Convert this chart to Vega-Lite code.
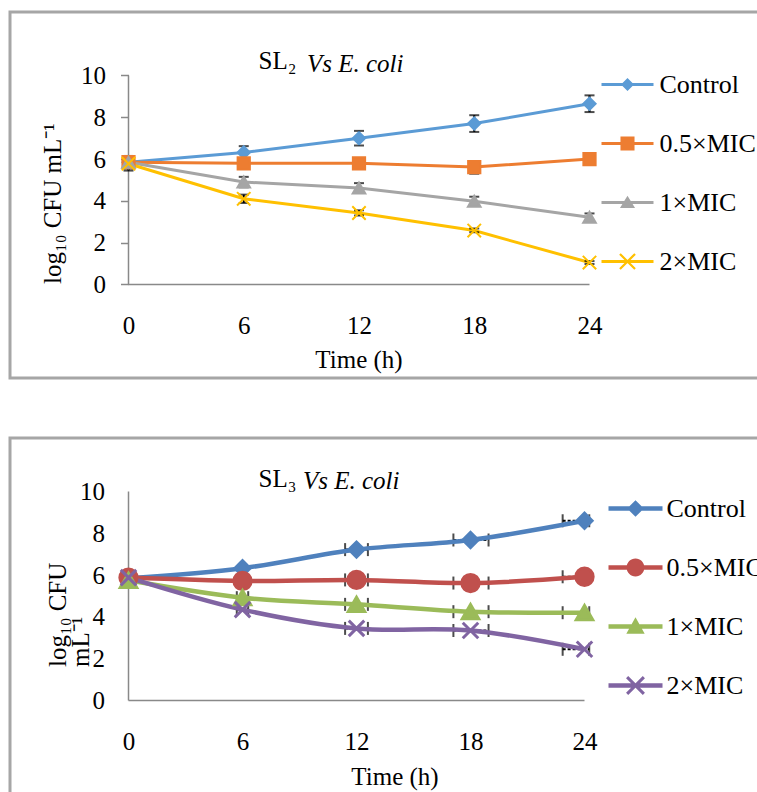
{
  "$schema": "https://vega.github.io/schema/vega-lite/v6.json",
  "padding": {"left": 8, "top": 10, "right": 0, "bottom": 0},
  "background": "white",
  "spacing": 56,
  "config": {
    "font": "Liberation Serif",
    "view": {"stroke": "#A6A6A6", "strokeWidth": 3},
    "axis": {"labelFont": "Liberation Serif", "titleFont": "Liberation Serif", "labelFontSize": 25, "titleFontSize": 25, "labelColor": "#000000", "titleColor": "#000000", "titleFontWeight": "normal", "grid": false, "labelFlush": false, "labelOverlap": false},
    "legend": {"labelFont": "Liberation Serif", "labelFontSize": 26, "labelColor": "#000000", "labelLimit": 400, "padding": 0, "symbolOpacity": 1, "symbolStrokeWidth": 0},
    "title": {"font": "Liberation Serif", "fontSize": 25, "fontWeight": "normal", "color": "#000000"}
  },
  "datasets": {
    "sl2": [
      {"series": "Control", "t": 0, "v": 5.85, "lo": 5.55, "hi": 6.15},
      {"series": "Control", "t": 6, "v": 6.32, "lo": 6.02, "hi": 6.62},
      {"series": "Control", "t": 12, "v": 7.0, "lo": 6.65, "hi": 7.35},
      {"series": "Control", "t": 18, "v": 7.7, "lo": 7.3, "hi": 8.1},
      {"series": "Control", "t": 24, "v": 8.65, "lo": 8.25, "hi": 9.05},
      {"series": "0.5×MIC", "t": 0, "v": 5.85, "lo": 5.6, "hi": 6.1},
      {"series": "0.5×MIC", "t": 6, "v": 5.8, "lo": 5.6, "hi": 6.0},
      {"series": "0.5×MIC", "t": 12, "v": 5.8, "lo": 5.6, "hi": 6.0},
      {"series": "0.5×MIC", "t": 18, "v": 5.62, "lo": 5.3, "hi": 5.9},
      {"series": "0.5×MIC", "t": 24, "v": 6.0, "lo": 5.8, "hi": 6.2},
      {"series": "1×MIC", "t": 0, "v": 5.85, "lo": 5.65, "hi": 6.05},
      {"series": "1×MIC", "t": 6, "v": 4.9, "lo": 4.65, "hi": 5.15},
      {"series": "1×MIC", "t": 12, "v": 4.62, "lo": 4.4, "hi": 4.85},
      {"series": "1×MIC", "t": 18, "v": 3.98, "lo": 3.8, "hi": 4.2},
      {"series": "1×MIC", "t": 24, "v": 3.22, "lo": 3.05, "hi": 3.4},
      {"series": "2×MIC", "t": 0, "v": 5.78, "lo": 5.45, "hi": 6.0},
      {"series": "2×MIC", "t": 6, "v": 4.1, "lo": 3.9, "hi": 4.3},
      {"series": "2×MIC", "t": 12, "v": 3.42, "lo": 3.3, "hi": 3.55},
      {"series": "2×MIC", "t": 18, "v": 2.58, "lo": 2.5, "hi": 2.68},
      {"series": "2×MIC", "t": 24, "v": 1.05, "lo": 0.98, "hi": 1.12}
    ],
    "sl3": [
      {"series": "Control", "t": 0, "v": 5.85},
      {"series": "Control", "t": 6, "v": 6.33},
      {"series": "Control", "t": 12, "v": 7.22},
      {"series": "Control", "t": 18, "v": 7.68},
      {"series": "Control", "t": 24, "v": 8.6},
      {"series": "0.5×MIC", "t": 0, "v": 5.88},
      {"series": "0.5×MIC", "t": 6, "v": 5.72},
      {"series": "0.5×MIC", "t": 12, "v": 5.77},
      {"series": "0.5×MIC", "t": 18, "v": 5.62},
      {"series": "0.5×MIC", "t": 24, "v": 5.92},
      {"series": "1×MIC", "t": 0, "v": 5.75},
      {"series": "1×MIC", "t": 6, "v": 4.92},
      {"series": "1×MIC", "t": 12, "v": 4.6},
      {"series": "1×MIC", "t": 18, "v": 4.25},
      {"series": "1×MIC", "t": 24, "v": 4.2},
      {"series": "2×MIC", "t": 0, "v": 5.88},
      {"series": "2×MIC", "t": 6, "v": 4.35},
      {"series": "2×MIC", "t": 12, "v": 3.45},
      {"series": "2×MIC", "t": 18, "v": 3.35},
      {"series": "2×MIC", "t": 24, "v": 2.45}
    ],
    "sl3err": [
      {"series": "Control", "t": 12, "v": 7.22, "xlo": 11.4, "xhi": 12.6},
      {"series": "Control", "t": 18, "v": 7.68, "xlo": 17.1, "xhi": 18.95},
      {"series": "Control", "t": 24, "v": 8.6, "xlo": 22.85, "xhi": 24.25},
      {"series": "0.5×MIC", "t": 12, "v": 5.77, "xlo": 11.4, "xhi": 12.6},
      {"series": "0.5×MIC", "t": 18, "v": 5.62, "xlo": 17.1, "xhi": 18.95},
      {"series": "0.5×MIC", "t": 24, "v": 5.92, "xlo": 22.85, "xhi": 24.25},
      {"series": "1×MIC", "t": 6, "v": 4.92, "xlo": 5.7, "xhi": 6.3},
      {"series": "1×MIC", "t": 12, "v": 4.6, "xlo": 11.4, "xhi": 12.6},
      {"series": "1×MIC", "t": 18, "v": 4.25, "xlo": 17.1, "xhi": 18.95},
      {"series": "1×MIC", "t": 24, "v": 4.2, "xlo": 22.85, "xhi": 24.25},
      {"series": "2×MIC", "t": 6, "v": 4.35, "xlo": 5.7, "xhi": 6.3},
      {"series": "2×MIC", "t": 12, "v": 3.45, "xlo": 11.4, "xhi": 12.6},
      {"series": "2×MIC", "t": 18, "v": 3.35, "xlo": 17.1, "xhi": 18.95},
      {"series": "2×MIC", "t": 24, "v": 2.45, "xlo": 22.85, "xhi": 24.25}
    ]
  },
  "resolve": {
    "scale": {"color": "independent", "shape": "independent"},
    "legend": {"color": "independent", "shape": "independent"}
  },
  "vconcat": [
    {
      "width": 760,
      "height": 366,
      "title": {"text": "SL₂", "anchor": "start", "frame": "group", "dx": 248.5, "offset": -82.4, "baseline": "alphabetic"},
      "data": {"name": "sl2"},
      "resolve": {"axis": {"x": "independent"}},
      "layer": [
        {
          "mark": {"type": "point", "filled": true, "opacity": 0},
          "encoding": {
            "x": {"field": "t", "type": "quantitative", "scale": {"domain": [-6.169, 33.397], "nice": false, "zero": false}, "axis": null},
            "y": {"field": "v", "type": "quantitative", "title": "log₁₀ CFU mL⁻¹", "scale": {"domain": [-4.474, 13.038], "nice": false, "zero": false}},
            "color": {
              "field": "series", "type": "nominal",
              "scale": {"domain": ["Control", "0.5×MIC", "1×MIC", "2×MIC"], "range": ["#5B9BD5", "#ED7D31", "#A5A5A5", "#FFC000"]},
              "legend": {"orient": "none", "legendX": 591.5, "legendY": 46.5, "title": null, "symbolSize": 2704, "labelOffset": 6, "rowPadding": 20}
            },
            "shape": {
              "field": "series", "type": "nominal",
              "scale": {"domain": ["Control", "0.5×MIC", "1×MIC", "2×MIC"], "range": [
                "M-1,-0.058L1,-0.058L1,0.058L-1,0.058Z M0,-0.25L0.25,0L0,0.25L-0.25,0Z",
                "M-1,-0.058L1,-0.058L1,0.058L-1,0.058Z M-0.27,-0.27L0.27,-0.27L0.27,0.27L-0.27,0.27Z",
                "M-1,-0.058L1,-0.058L1,0.058L-1,0.058Z M0,-0.26L0.29,0.21L-0.29,0.21Z",
                "M-1,-0.058L1,-0.058L1,0.058L-1,0.058Z M-0.26,-0.32L0.32,0.26L0.26,0.32L-0.32,-0.26Z M-0.32,0.26L0.26,-0.32L0.32,-0.26L-0.26,0.32Z"
              ]},
              "legend": {"orient": "none", "legendX": 591.5, "legendY": 46.5, "title": null, "symbolSize": 2704, "labelOffset": 6, "rowPadding": 20}
            }
          }
        },
        {
          "data": {"values": [{}]},
          "mark": {"type": "rule", "color": "#898989", "strokeWidth": 1.5},
          "encoding": {
            "x": {"datum": 0, "type": "quantitative", "scale": {"domain": [-6.169, 33.397], "nice": false, "zero": false}, "axis": {"orient": "top", "offset": 0, "labels": false, "ticks": false, "domain": false, "title": "Vs E. coli", "titleFontStyle": "italic", "titleX": 296.5, "titleY": 59.2, "titleAlign": "left", "titleBaseline": "alphabetic", "titleAngle": 0}},
            "y": {"datum": 0, "type": "quantitative", "title": "log₁₀ CFU mL⁻¹", "scale": {"domain": [-4.474, 13.038], "nice": false, "zero": false}},
            "y2": {"datum": 10}
          }
        },
        {
          "data": {"values": [{}]},
          "mark": {"type": "rule", "color": "#898989", "strokeWidth": 1.5},
          "encoding": {
            "x": {"datum": 0, "type": "quantitative", "scale": {"domain": [-6.169, 33.397], "nice": false, "zero": false}, "axis": null},
            "x2": {"datum": 24},
            "y": {"datum": 0, "type": "quantitative", "title": "log₁₀ CFU mL⁻¹", "scale": {"domain": [-4.474, 13.038], "nice": false, "zero": false}}
          }
        },
        {
          "transform": [{"filter": "datum.series === 'Control'"}],
          "mark": {"type": "line", "strokeWidth": 3, "color": "#5B9BD5"},
          "encoding": {
            "x": {"field": "t", "type": "quantitative", "scale": {"domain": [-6.169, 33.397], "nice": false, "zero": false}, "axis": {"orient": "bottom", "offset": -93.5, "values": [0, 6, 12, 18, 24], "ticks": false, "tickSize": 0, "domain": false, "labelPadding": 49, "labelBaseline": "alphabetic", "title": "Time (h)", "titleX": 348.5, "titleY": 83, "titleAlign": "center", "titleBaseline": "alphabetic"}},
            "y": {"field": "v", "type": "quantitative", "scale": {"domain": [-4.474, 13.038], "nice": false, "zero": false}, "axis": {"orient": "left", "offset": -118.5, "values": [0, 2, 4, 6, 8, 10], "domain": false, "ticks": true, "tickSize": 8, "tickColor": "#898989", "tickWidth": 1.5, "labelPadding": 15, "title": "log₁₀ CFU mL⁻¹", "titleAngle": -90, "titleX": -68, "titleY": 271.5, "titleAlign": "left", "titleBaseline": "alphabetic"}}
          }
        },
        {
          "transform": [{"filter": "datum.series === '0.5×MIC'"}],
          "mark": {"type": "line", "strokeWidth": 3, "color": "#ED7D31"},
          "encoding": {
            "x": {"field": "t", "type": "quantitative", "scale": {"domain": [-6.169, 33.397], "nice": false, "zero": false}, "axis": null},
            "y": {"field": "v", "type": "quantitative", "title": "log₁₀ CFU mL⁻¹", "scale": {"domain": [-4.474, 13.038], "nice": false, "zero": false}}
          }
        },
        {
          "transform": [{"filter": "datum.series === '1×MIC'"}],
          "mark": {"type": "line", "strokeWidth": 3, "color": "#A5A5A5"},
          "encoding": {
            "x": {"field": "t", "type": "quantitative", "scale": {"domain": [-6.169, 33.397], "nice": false, "zero": false}, "axis": null},
            "y": {"field": "v", "type": "quantitative", "title": "log₁₀ CFU mL⁻¹", "scale": {"domain": [-4.474, 13.038], "nice": false, "zero": false}}
          }
        },
        {
          "transform": [{"filter": "datum.series === '2×MIC'"}],
          "mark": {"type": "line", "strokeWidth": 3, "color": "#FFC000"},
          "encoding": {
            "x": {"field": "t", "type": "quantitative", "scale": {"domain": [-6.169, 33.397], "nice": false, "zero": false}, "axis": null},
            "y": {"field": "v", "type": "quantitative", "title": "log₁₀ CFU mL⁻¹", "scale": {"domain": [-4.474, 13.038], "nice": false, "zero": false}}
          }
        },
        {
          "mark": {"type": "errorbar", "color": "black", "ticks": {"size": 10, "thickness": 2, "color": "black"}, "rule": {"strokeWidth": 2, "color": "black"}},
          "encoding": {
            "x": {"field": "t", "type": "quantitative", "scale": {"domain": [-6.169, 33.397], "nice": false, "zero": false}, "axis": null},
            "y": {"field": "lo", "type": "quantitative", "title": "log₁₀ CFU mL⁻¹", "scale": {"domain": [-4.474, 13.038], "nice": false, "zero": false}},
            "y2": {"field": "hi"},
            "detail": {"field": "series", "type": "nominal"}
          }
        },
        {
          "transform": [{"filter": "datum.series === 'Control'"}],
          "mark": {"type": "point", "shape": "diamond", "filled": true, "color": "#5B9BD5", "stroke": "#5B9BD5", "strokeWidth": 2, "size": 150, "opacity": 1},
          "encoding": {
            "x": {"field": "t", "type": "quantitative", "scale": {"domain": [-6.169, 33.397], "nice": false, "zero": false}, "axis": null},
            "y": {"field": "v", "type": "quantitative", "title": "log₁₀ CFU mL⁻¹", "scale": {"domain": [-4.474, 13.038], "nice": false, "zero": false}}
          }
        },
        {
          "transform": [{"filter": "datum.series === '0.5×MIC'"}],
          "mark": {"type": "point", "shape": "square", "filled": true, "color": "#ED7D31", "stroke": "#ED7D31", "strokeWidth": 2, "size": 150, "opacity": 1},
          "encoding": {
            "x": {"field": "t", "type": "quantitative", "scale": {"domain": [-6.169, 33.397], "nice": false, "zero": false}, "axis": null},
            "y": {"field": "v", "type": "quantitative", "title": "log₁₀ CFU mL⁻¹", "scale": {"domain": [-4.474, 13.038], "nice": false, "zero": false}}
          }
        },
        {
          "transform": [{"filter": "datum.series === '1×MIC'"}],
          "mark": {"type": "point", "shape": "triangle-up", "filled": true, "color": "#A5A5A5", "stroke": "#A5A5A5", "strokeWidth": 2, "size": 160, "opacity": 1},
          "encoding": {
            "x": {"field": "t", "type": "quantitative", "scale": {"domain": [-6.169, 33.397], "nice": false, "zero": false}, "axis": null},
            "y": {"field": "v", "type": "quantitative", "title": "log₁₀ CFU mL⁻¹", "scale": {"domain": [-4.474, 13.038], "nice": false, "zero": false}}
          }
        },
        {
          "transform": [{"filter": "datum.series === '2×MIC'"}],
          "mark": {"type": "point", "shape": "M-1,-1L1,1M-1,1L1,-1", "filled": false, "color": "#FFC000", "stroke": "#FFC000", "strokeWidth": 2, "size": 180, "opacity": 1},
          "encoding": {
            "x": {"field": "t", "type": "quantitative", "scale": {"domain": [-6.169, 33.397], "nice": false, "zero": false}, "axis": null},
            "y": {"field": "v", "type": "quantitative", "title": "log₁₀ CFU mL⁻¹", "scale": {"domain": [-4.474, 13.038], "nice": false, "zero": false}}
          }
        }
      ]
    },
    {
      "width": 760,
      "height": 360,
      "title": {"text": "SL₃", "anchor": "start", "frame": "group", "dx": 248.5, "offset": -74, "baseline": "alphabetic"},
      "data": {"name": "sl3"},
      "resolve": {"axis": {"x": "independent"}},
      "layer": [
        {
          "mark": {"type": "point", "filled": true, "opacity": 0},
          "encoding": {
            "x": {"field": "t", "type": "quantitative", "scale": {"domain": [-6.237, 33.763], "nice": false, "zero": false}, "axis": null},
            "y": {"field": "v", "type": "quantitative", "scale": {"domain": [-4.665, 12.56], "nice": false, "zero": false}},
            "color": {
              "field": "series", "type": "nominal",
              "scale": {"domain": ["Control", "0.5×MIC", "1×MIC", "2×MIC"], "range": ["#4F81BD", "#C0504D", "#9BBB59", "#8064A2"]},
              "legend": {"orient": "none", "legendX": 598.5, "legendY": 43.5, "title": null, "symbolSize": 2916, "labelOffset": 4, "rowPadding": 19}
            },
            "shape": {
              "field": "series", "type": "nominal",
              "scale": {"domain": ["Control", "0.5×MIC", "1×MIC", "2×MIC"], "range": [
                "M-1,-0.083L1,-0.083L1,0.083L-1,0.083Z M0,-0.31L0.31,0L0,0.31L-0.31,0Z",
                "M-1,-0.083L1,-0.083L1,0.083L-1,0.083Z M-0.33,0A0.33,0.33 0 1,1 0.33,0A0.33,0.33 0 1,1 -0.33,0Z",
                "M-1,-0.083L1,-0.083L1,0.083L-1,0.083Z M0,-0.34L0.34,0.27L-0.34,0.27Z",
                "M-1,-0.083L1,-0.083L1,0.083L-1,0.083Z M-0.27,-0.35L0.35,0.27L0.27,0.35L-0.35,-0.27Z M-0.35,0.27L0.27,-0.35L0.35,-0.27L-0.27,0.35Z"
              ]},
              "legend": {"orient": "none", "legendX": 598.5, "legendY": 43.5, "title": null, "symbolSize": 2916, "labelOffset": 4, "rowPadding": 19}
            }
          }
        },
        {
          "data": {"values": [{}]},
          "mark": {"type": "rule", "color": "#898989", "strokeWidth": 1.5},
          "encoding": {
            "x": {"datum": 0, "type": "quantitative", "scale": {"domain": [-6.237, 33.763], "nice": false, "zero": false}, "axis": {"orient": "top", "offset": 0, "labels": false, "ticks": false, "domain": false, "title": "Vs E. coli", "titleFontStyle": "italic", "titleX": 292.5, "titleY": 50.5, "titleAlign": "left", "titleBaseline": "alphabetic", "titleAngle": 0}},
            "y": {"datum": 0, "type": "quantitative", "scale": {"domain": [-4.665, 12.56], "nice": false, "zero": false}},
            "y2": {"datum": 10}
          }
        },
        {
          "data": {"values": [{}]},
          "mark": {"type": "rule", "color": "#898989", "strokeWidth": 1.5},
          "encoding": {
            "x": {"datum": 0, "type": "quantitative", "scale": {"domain": [-6.237, 33.763], "nice": false, "zero": false}, "axis": null},
            "x2": {"datum": 24},
            "y": {"datum": 0, "type": "quantitative", "scale": {"domain": [-4.665, 12.56], "nice": false, "zero": false}}
          }
        },
        {
          "data": {"name": "sl3err"},
          "mark": {"type": "errorbar", "color": "black", "ticks": {"size": 13, "thickness": 2, "color": "black", "strokeDash": [3, 2]}, "rule": {"strokeWidth": 2, "color": "black", "strokeDash": [3, 2]}},
          "encoding": {
            "x": {"field": "xlo", "type": "quantitative", "scale": {"domain": [-6.237, 33.763], "nice": false, "zero": false}, "axis": null},
            "x2": {"field": "xhi"},
            "y": {"field": "v", "type": "quantitative", "scale": {"domain": [-4.665, 12.56], "nice": false, "zero": false}},
            "detail": {"field": "series", "type": "nominal"}
          }
        },
        {
          "transform": [{"filter": "datum.series === 'Control'"}],
          "mark": {"type": "line", "strokeWidth": 4.5, "interpolate": "catmull-rom", "color": "#4F81BD"},
          "encoding": {
            "x": {"field": "t", "type": "quantitative", "scale": {"domain": [-6.237, 33.763], "nice": false, "zero": false}, "axis": {"orient": "bottom", "offset": -97.5, "values": [0, 6, 12, 18, 24], "ticks": false, "tickSize": 0, "domain": false, "labelPadding": 49, "labelBaseline": "alphabetic", "title": "Time (h)", "titleX": 384.5, "titleY": 84, "titleAlign": "center", "titleBaseline": "alphabetic"}},
            "y": {"field": "v", "type": "quantitative", "scale": {"domain": [-4.665, 12.56], "nice": false, "zero": false}, "axis": {"orient": "left", "offset": -118.5, "values": [0, 2, 4, 6, 8, 10], "domain": false, "ticks": false, "tickSize": 0, "labelPadding": 24, "title": ["log₁₀ CFU", "mL⁻¹"], "titleAngle": -90, "titleX": -63, "titleY": 228.5, "titleAlign": "left", "titleBaseline": "alphabetic", "titleLineHeight": 23}}
          }
        },
        {
          "transform": [{"filter": "datum.series === '0.5×MIC'"}],
          "mark": {"type": "line", "strokeWidth": 4.5, "interpolate": "catmull-rom", "color": "#C0504D"},
          "encoding": {
            "x": {"field": "t", "type": "quantitative", "scale": {"domain": [-6.237, 33.763], "nice": false, "zero": false}, "axis": null},
            "y": {"field": "v", "type": "quantitative", "scale": {"domain": [-4.665, 12.56], "nice": false, "zero": false}}
          }
        },
        {
          "transform": [{"filter": "datum.series === '1×MIC'"}],
          "mark": {"type": "line", "strokeWidth": 4.5, "interpolate": "catmull-rom", "color": "#9BBB59"},
          "encoding": {
            "x": {"field": "t", "type": "quantitative", "scale": {"domain": [-6.237, 33.763], "nice": false, "zero": false}, "axis": null},
            "y": {"field": "v", "type": "quantitative", "scale": {"domain": [-4.665, 12.56], "nice": false, "zero": false}}
          }
        },
        {
          "transform": [{"filter": "datum.series === '2×MIC'"}],
          "mark": {"type": "line", "strokeWidth": 4.5, "interpolate": "catmull-rom", "color": "#8064A2"},
          "encoding": {
            "x": {"field": "t", "type": "quantitative", "scale": {"domain": [-6.237, 33.763], "nice": false, "zero": false}, "axis": null},
            "y": {"field": "v", "type": "quantitative", "scale": {"domain": [-4.665, 12.56], "nice": false, "zero": false}}
          }
        },
        {
          "transform": [{"filter": "datum.series === 'Control'"}],
          "mark": {"type": "point", "shape": "diamond", "filled": true, "color": "#4F81BD", "stroke": "#4F81BD", "strokeWidth": 3, "size": 230, "opacity": 1},
          "encoding": {
            "x": {"field": "t", "type": "quantitative", "scale": {"domain": [-6.237, 33.763], "nice": false, "zero": false}, "axis": null},
            "y": {"field": "v", "type": "quantitative", "scale": {"domain": [-4.665, 12.56], "nice": false, "zero": false}}
          }
        },
        {
          "transform": [{"filter": "datum.series === '0.5×MIC'"}],
          "mark": {"type": "point", "shape": "circle", "filled": true, "color": "#C0504D", "stroke": "#C0504D", "strokeWidth": 3, "size": 300, "opacity": 1},
          "encoding": {
            "x": {"field": "t", "type": "quantitative", "scale": {"domain": [-6.237, 33.763], "nice": false, "zero": false}, "axis": null},
            "y": {"field": "v", "type": "quantitative", "scale": {"domain": [-4.665, 12.56], "nice": false, "zero": false}}
          }
        },
        {
          "transform": [{"filter": "datum.series === '1×MIC'"}],
          "mark": {"type": "point", "shape": "triangle-up", "filled": true, "color": "#9BBB59", "stroke": "#9BBB59", "strokeWidth": 3, "size": 270, "opacity": 1},
          "encoding": {
            "x": {"field": "t", "type": "quantitative", "scale": {"domain": [-6.237, 33.763], "nice": false, "zero": false}, "axis": null},
            "y": {"field": "v", "type": "quantitative", "scale": {"domain": [-4.665, 12.56], "nice": false, "zero": false}}
          }
        },
        {
          "transform": [{"filter": "datum.series === '2×MIC'"}],
          "mark": {"type": "point", "shape": "M-1,-1L1,1M-1,1L1,-1", "filled": false, "color": "#8064A2", "stroke": "#8064A2", "strokeWidth": 3, "size": 240, "opacity": 1},
          "encoding": {
            "x": {"field": "t", "type": "quantitative", "scale": {"domain": [-6.237, 33.763], "nice": false, "zero": false}, "axis": null},
            "y": {"field": "v", "type": "quantitative", "scale": {"domain": [-4.665, 12.56], "nice": false, "zero": false}}
          }
        }
      ]
    }
  ]
}
